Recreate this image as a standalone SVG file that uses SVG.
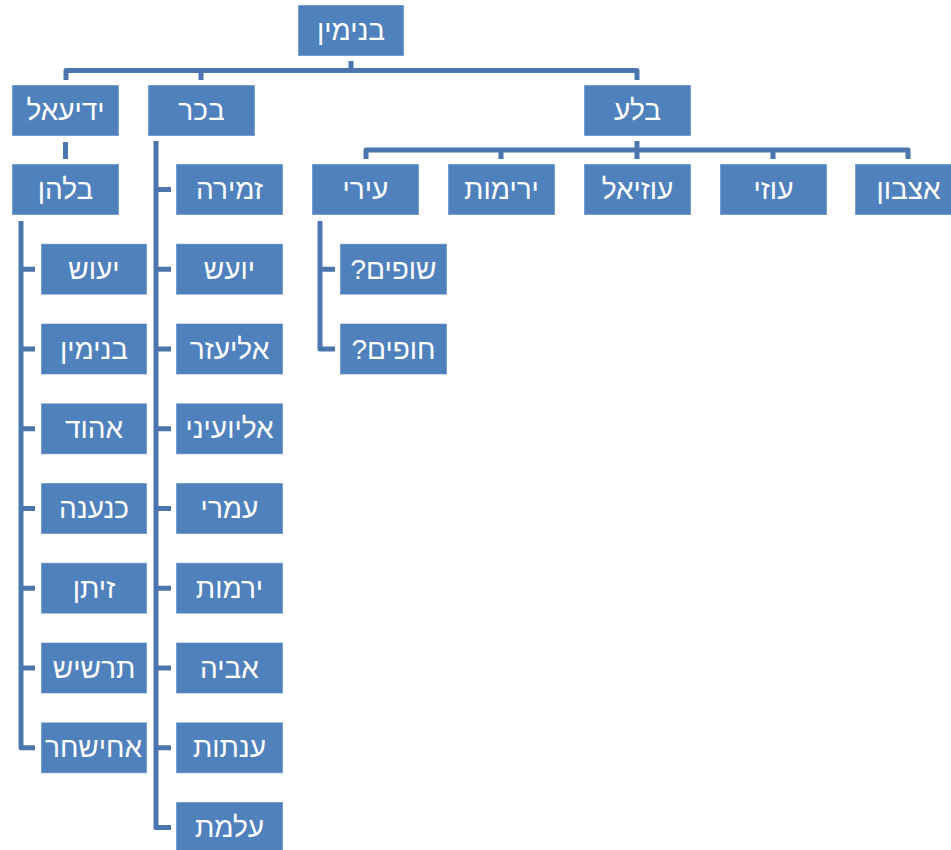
<svg xmlns="http://www.w3.org/2000/svg" width="951" height="850" viewBox="0 0 951 850">
<style>
.b{fill:#4f81bd;stroke:#ffffff;stroke-opacity:0.45;stroke-width:1}
.t{fill:#ffffff;font-family:"Liberation Sans","DejaVu Sans",sans-serif;font-size:28px;text-anchor:middle;direction:rtl;unicode-bidi:embed}
.c{fill:none;stroke:#4a76ad;stroke-width:5;stroke-linejoin:round}
</style>
<rect width="951" height="850" fill="#ffffff"/>
<g id="connectors" class="c">
<path d="M351,61V70.5M66,80V70.5H637V80M201,70.5V80"/>
<path d="M65.5,142V159"/>
<path d="M156,141V827.5H171M156,189.5H171M156,269.25H171M156,349H171M156,428.75H171M156,508.5H171M156,588.25H171M156,668H171M156,747.75H171"/>
<path d="M21,221V747.75H35M21,269.25H35M21,349H35M21,428.75H35M21,508.5H35M21,588.25H35M21,668H35"/>
<path d="M637,141V159M366,159V150H908V159M501,150V159M773,150V159"/>
<path d="M320,221V349H335M320,269.25H335"/>
</g>
<g id="n-binyamin"><rect class="b" x="298" y="5" width="106" height="51"/><text class="t" x="351" y="40">בנימין</text></g>
<g id="n-yediael"><rect class="b" x="12" y="85" width="107" height="51"/><text class="t" x="65.5" y="120">ידיעאל</text></g>
<g id="n-bekher"><rect class="b" x="148" y="85" width="107" height="51"/><text class="t" x="201.5" y="120">בכר</text></g>
<g id="n-bela"><rect class="b" x="584" y="85" width="107" height="51"/><text class="t" x="637.5" y="120">בלע</text></g>
<g id="n-bilhan"><rect class="b" x="12" y="164" width="107" height="51"/><text class="t" x="65.5" y="199">בלהן</text></g>
<g id="n-yeush"><rect class="b" x="41" y="243.75" width="106" height="51"/><text class="t" x="94" y="278.75">יעוש</text></g>
<g id="n-binyamin2"><rect class="b" x="41" y="323.5" width="106" height="51"/><text class="t" x="94" y="358.5">בנימין</text></g>
<g id="n-ehud"><rect class="b" x="41" y="403.25" width="106" height="51"/><text class="t" x="94" y="438.25">אהוד</text></g>
<g id="n-kenaana"><rect class="b" x="41" y="483" width="106" height="51"/><text class="t" x="94" y="518">כנענה</text></g>
<g id="n-zetan"><rect class="b" x="41" y="562.75" width="106" height="51"/><text class="t" x="94" y="597.75">זיתן</text></g>
<g id="n-tarshish"><rect class="b" x="41" y="642.5" width="106" height="51"/><text class="t" x="94" y="677.5">תרשיש</text></g>
<g id="n-ahishahar"><rect class="b" x="41" y="722.25" width="106" height="51"/><text class="t" x="93.5" y="757.25">אחישחר</text></g>
<g id="n-zemira"><rect class="b" x="176" y="164" width="107" height="51"/><text class="t" x="229.5" y="199">זמירה</text></g>
<g id="n-yoash"><rect class="b" x="176" y="243.75" width="107" height="51"/><text class="t" x="229.5" y="278.75">יועש</text></g>
<g id="n-eliezer"><rect class="b" x="176" y="323.5" width="107" height="51"/><text class="t" x="229.5" y="358.5">אליעזר</text></g>
<g id="n-elioenai"><rect class="b" x="176" y="403.25" width="107" height="51"/><text class="t" x="229.5" y="438.25">אליועיני</text></g>
<g id="n-omri"><rect class="b" x="176" y="483" width="107" height="51"/><text class="t" x="229.5" y="518">עמרי</text></g>
<g id="n-yeremot"><rect class="b" x="176" y="562.75" width="107" height="51"/><text class="t" x="229.5" y="597.75">ירמות</text></g>
<g id="n-aviya"><rect class="b" x="176" y="642.5" width="107" height="51"/><text class="t" x="229.5" y="677.5">אביה</text></g>
<g id="n-anatot"><rect class="b" x="176" y="722.25" width="107" height="51"/><text class="t" x="229.5" y="757.25">ענתות</text></g>
<g id="n-alemet"><rect class="b" x="176" y="802" width="107" height="51"/><text class="t" x="229.5" y="837">עלמת</text></g>
<g id="n-iri"><rect class="b" x="312" y="164" width="107" height="51"/><text class="t" x="365.5" y="199">עירי</text></g>
<g id="n-yerimot"><rect class="b" x="448" y="164" width="107" height="51"/><text class="t" x="501.5" y="199">ירימות</text></g>
<g id="n-uziel"><rect class="b" x="584" y="164" width="107" height="51"/><text class="t" x="637.5" y="199">עוזיאל</text></g>
<g id="n-uzi"><rect class="b" x="720" y="164" width="107" height="51"/><text class="t" x="773.5" y="199">עוזי</text></g>
<g id="n-etsbon"><rect class="b" x="855" y="164" width="107" height="51"/><text class="t" x="908.5" y="199">אצבון</text></g>
<g id="n-shupim"><rect class="b" x="340" y="243.75" width="107" height="51"/><text class="t" x="393.5" y="278.75">שופים?</text></g>
<g id="n-hupim"><rect class="b" x="340" y="323.5" width="107" height="51"/><text class="t" x="393.5" y="358.5">חופים?</text></g>
</svg>
